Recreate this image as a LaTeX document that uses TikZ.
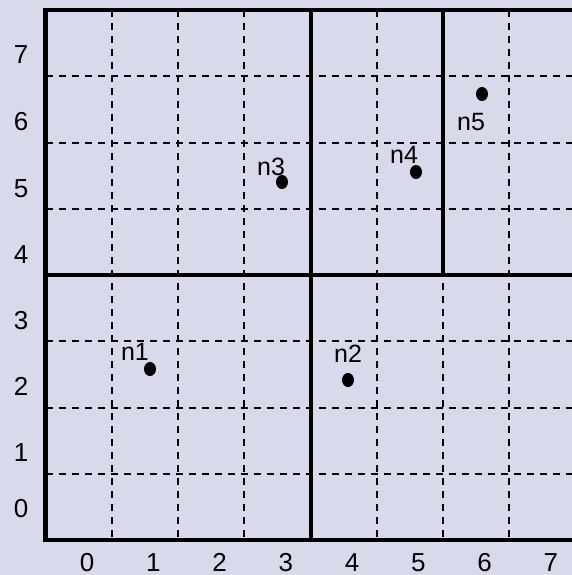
\documentclass[tikz,border=0pt]{standalone}
\usepackage{fontspec}
\setmainfont{Liberation Sans}
\usetikzlibrary{shapes.geometric}
\definecolor{bgcol}{RGB}{217,217,236}
\tikzset{
  gridline/.style={line width=2pt, dash pattern=on 7pt off 6pt},
  partline/.style={line width=4.2pt},
  axislabel/.style={font=\fontsize{26}{26}\selectfont, inner sep=0pt, anchor=base},
  ptlabel/.style={font=\fontsize{25}{25}\selectfont, inner sep=0pt, anchor=base},
  pt/.style={ellipse, fill=black, minimum width=12pt, minimum height=14pt, inner sep=0pt}
}
\begin{document}
\begin{tikzpicture}[x=1pt,y=-1pt]
\useasboundingbox (0,0) rectangle (572,575);
\fill[bgcol] (0,0) rectangle (572,575);
\begin{scope}
\clip (0,0) rectangle (572,575);
% dashed grid
\foreach \k in {1,...,7}{
  \draw[gridline] ({45.5+66.25*\k},10) -- ({45.5+66.25*\k},540);
  \draw[gridline] (45.5,{10+66.25*\k}) -- (580,{10+66.25*\k});
}
% partition lines
\draw[partline] (580,10) -- (45.5,10) -- (45.5,540) -- (580,540);
\draw[partline] (311,10) -- (311,540);
\draw[partline] (45.5,275) -- (580,275);
\draw[partline] (443,10) -- (443,275);
\end{scope}
% axis labels
\foreach \i in {0,...,7}{
  \node[axislabel] (xl\i) at ({87+66.25*\i},571) {\i};
}
\node[axislabel] (yl7) at (21,64) {7};
\node[axislabel] (yl6) at (21,130) {6};
\node[axislabel] (yl5) at (21,197) {5};
\node[axislabel] (yl4) at (21,263) {4};
\node[axislabel] (yl3) at (21,329) {3};
\node[axislabel] (yl2) at (21,395) {2};
\node[axislabel] (yl1) at (21,461) {1};
\node[axislabel] (yl0) at (21,517) {0};
% points
\node[pt] (n1) at (150,369) {};
\node[pt] (n2) at (348,380) {};
\node[pt] (n3) at (282,182) {};
\node[pt] (n4) at (416,172) {};
\node[pt] (n5) at (482,94) {};
\node[ptlabel] (l1) at (135,360) {n1};
\node[ptlabel] (l2) at (348,362) {n2};
\node[ptlabel] (l3) at (271,175) {n3};
\node[ptlabel] (l4) at (404,163) {n4};
\node[ptlabel] (l5) at (471,130) {n5};
\end{tikzpicture}
\end{document}
